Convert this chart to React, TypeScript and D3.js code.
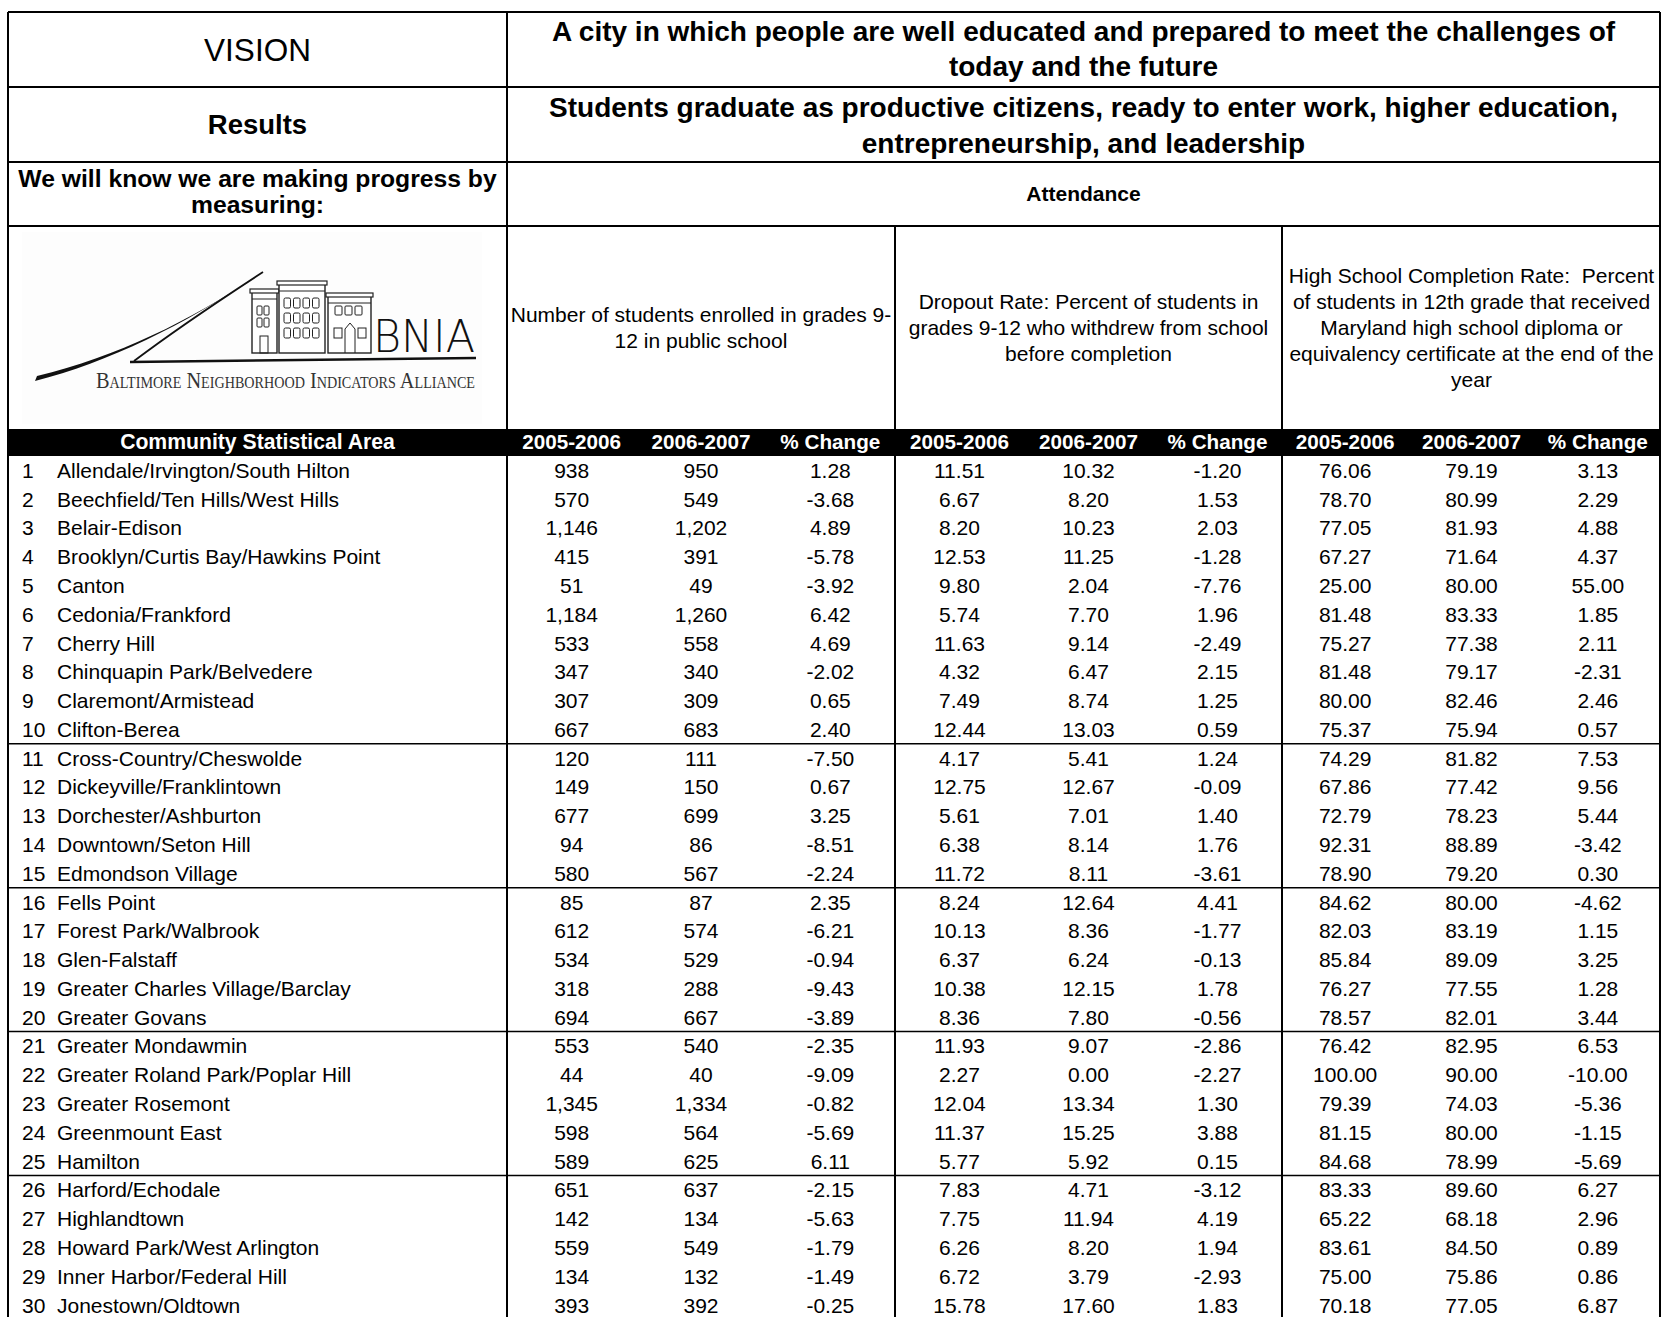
import React from "react";
import * as d3 from "d3";

// ---------- DATA ----------
const csaNames = [
  "Allendale/Irvington/South Hilton",
  "Beechfield/Ten Hills/West Hills",
  "Belair-Edison",
  "Brooklyn/Curtis Bay/Hawkins Point",
  "Canton",
  "Cedonia/Frankford",
  "Cherry Hill",
  "Chinquapin Park/Belvedere",
  "Claremont/Armistead",
  "Clifton-Berea",
  "Cross-Country/Cheswolde",
  "Dickeyville/Franklintown",
  "Dorchester/Ashburton",
  "Downtown/Seton Hill",
  "Edmondson Village",
  "Fells Point",
  "Forest Park/Walbrook",
  "Glen-Falstaff",
  "Greater Charles Village/Barclay",
  "Greater Govans",
  "Greater Mondawmin",
  "Greater Roland Park/Poplar Hill",
  "Greater Rosemont",
  "Greenmount East",
  "Hamilton",
  "Harford/Echodale",
  "Highlandtown",
  "Howard Park/West Arlington",
  "Inner Harbor/Federal Hill",
  "Jonestown/Oldtown",
];

const enroll0506 = [938, 570, 1146, 415, 51, 1184, 533, 347, 307, 667, 120, 149, 677, 94, 580, 85, 612, 534, 318, 694, 553, 44, 1345, 598, 589, 651, 142, 559, 134, 393];
const enroll0607 = [950, 549, 1202, 391, 49, 1260, 558, 340, 309, 683, 111, 150, 699, 86, 567, 87, 574, 529, 288, 667, 540, 40, 1334, 564, 625, 637, 134, 549, 132, 392];
const enrollChange = [1.28, -3.68, 4.89, -5.78, -3.92, 6.42, 4.69, -2.02, 0.65, 2.4, -7.5, 0.67, 3.25, -8.51, -2.24, 2.35, -6.21, -0.94, -9.43, -3.89, -2.35, -9.09, -0.82, -5.69, 6.11, -2.15, -5.63, -1.79, -1.49, -0.25];

const dropout0506 = [11.51, 6.67, 8.2, 12.53, 9.8, 5.74, 11.63, 4.32, 7.49, 12.44, 4.17, 12.75, 5.61, 6.38, 11.72, 8.24, 10.13, 6.37, 10.38, 8.36, 11.93, 2.27, 12.04, 11.37, 5.77, 7.83, 7.75, 6.26, 6.72, 15.78];
const dropout0607 = [10.32, 8.2, 10.23, 11.25, 2.04, 7.7, 9.14, 6.47, 8.74, 13.03, 5.41, 12.67, 7.01, 8.14, 8.11, 12.64, 8.36, 6.24, 12.15, 7.8, 9.07, 0.0, 13.34, 15.25, 5.92, 4.71, 11.94, 8.2, 3.79, 17.6];
const dropoutChange = [-1.2, 1.53, 2.03, -1.28, -7.76, 1.96, -2.49, 2.15, 1.25, 0.59, 1.24, -0.09, 1.4, 1.76, -3.61, 4.41, -1.77, -0.13, 1.78, -0.56, -2.86, -2.27, 1.3, 3.88, 0.15, -3.12, 4.19, 1.94, -2.93, 1.83];

const completion0506 = [76.06, 78.7, 77.05, 67.27, 25.0, 81.48, 75.27, 81.48, 80.0, 75.37, 74.29, 67.86, 72.79, 92.31, 78.9, 84.62, 82.03, 85.84, 76.27, 78.57, 76.42, 100.0, 79.39, 81.15, 84.68, 83.33, 65.22, 83.61, 75.0, 70.18];
const completion0607 = [79.19, 80.99, 81.93, 71.64, 80.0, 83.33, 77.38, 79.17, 82.46, 75.94, 81.82, 77.42, 78.23, 88.89, 79.2, 80.0, 83.19, 89.09, 77.55, 82.01, 82.95, 90.0, 74.03, 80.0, 78.99, 89.6, 68.18, 84.5, 75.86, 77.05];
const completionChange = [3.13, 2.29, 4.88, 4.37, 55.0, 1.85, 2.11, -2.31, 2.46, 0.57, 7.53, 9.56, 5.44, -3.42, 0.3, -4.62, 1.15, 3.25, 1.28, 3.44, 6.53, -10.0, -5.36, -1.15, -5.69, 6.27, 2.96, 0.89, 0.86, 6.87];

const periodLabels = ["2005-2006", "2006-2007", "% Change"];
const visionText = ["A city in which people are well educated and prepared to meet the challenges of", "today and the future"];
const resultsText = ["Students graduate as productive citizens, ready to enter work, higher education,", "entrepreneurship, and leadership"];
const measureText = ["We will know we are making progress by", "measuring:"];
const indicatorDescs = [
  ["Number of students enrolled in grades 9-", "12 in public school"],
  ["Dropout Rate: Percent of students in", "grades 9-12 who withdrew from school", "before completion"],
  ["High School Completion Rate:  Percent", "of students in 12th grade that received", "Maryland high school diploma or", "equivalency certificate at the end of the", "year"],
];
const groupBoundaryRows = [10, 15, 20, 25];

// ---------- LAYOUT ----------
const W = 1661;
const H = 1317;
const FONT = "'Liberation Sans', Arial, Helvetica, sans-serif";
const L = 8;
const R = 1660;
const T = 12;
const DIV = 507;
const rowLines = [12, 87, 162, 226, 430];
const HEAD_TOP = 430;
const HEAD_BOT = 456;
const ROW_H = 28.78;
const groupEdges = [507, 895, 1282, 1661];
const DATA_FS = 21;

const locale = d3.formatLocale({ decimal: ".", thousands: ",", grouping: [3], currency: ["$", ""], minus: "-" });
const fmtInt = locale.format(",");
const fmt2 = locale.format(".2f");

const series = [
  { values: enroll0506, fmt: fmtInt },
  { values: enroll0607, fmt: fmtInt },
  { values: enrollChange, fmt: fmt2 },
  { values: dropout0506, fmt: fmt2 },
  { values: dropout0607, fmt: fmt2 },
  { values: dropoutChange, fmt: fmt2 },
  { values: completion0506, fmt: fmt2 },
  { values: completion0607, fmt: fmt2 },
  { values: completionChange, fmt: fmt2 },
];

function Logo() {
  const b1 = { x: 252, y: 292, w: 25, h: 61 };
  const b2 = { x: 279, y: 284, w: 46, h: 69 };
  const b3 = { x: 328, y: 296, w: 43, h: 57 };
  const win: JSX.Element[] = [];
  for (let r = 0; r < 2; r++)
    for (let c = 0; c < 2; c++)
      win.push(<rect key={`a${r}${c}`} x={b1.x + 5 + c * 7} y={b1.y + 14 + r * 12} width={5} height={9} rx={1} fill="none" stroke="#222" strokeWidth={1} />);
  win.push(<rect key="a-door" x={b1.x + 8} y={b1.y + 44} width={8} height={17} fill="none" stroke="#222" strokeWidth={1} />);
  for (let r = 0; r < 3; r++)
    for (let c = 0; c < 4; c++)
      win.push(<rect key={`b${r}${c}`} x={b2.x + 5 + c * 9.5} y={b2.y + 14 + r * 15} width={6.5} height={10} rx={1.5} fill="none" stroke="#222" strokeWidth={1} />);
  for (let c = 0; c < 3; c++)
    win.push(<rect key={`c${c}`} x={b3.x + 7 + c * 10} y={b3.y + 10} width={7} height={9} rx={1} fill="none" stroke="#222" strokeWidth={1} />);
  win.push(<rect key="c-w1" x={b3.x + 6} y={b3.y + 32} width={8} height={10} fill="none" stroke="#222" strokeWidth={1} />);
  win.push(<path key="c-door" d={`M${b3.x + 17},${b3.y + 57} V${b3.y + 33} L${b3.x + 22},${b3.y + 27} L${b3.x + 27},${b3.y + 33} V${b3.y + 57}`} fill="none" stroke="#222" strokeWidth={1} />);
  win.push(<rect key="c-w2" x={b3.x + 30} y={b3.y + 32} width={8} height={10} fill="none" stroke="#222" strokeWidth={1} />);
  return (
    <g>
      <rect x={22} y={232} width={460} height={192} fill="#fdfdfd" />
      <path d="M35,381 C110,362 190,322 263,272 C195,318 120,356 37,376 Z" fill="#111" />
      <path d="M263,272 C220,300 175,330 134,361" fill="none" stroke="#111" strokeWidth={1.8} />
      <path d="M130,362 L476,358" fill="none" stroke="#111" strokeWidth={2.4} />
      {[b1, b2, b3].map((b, i) => (
        <g key={i}>
          <rect x={b.x} y={b.y} width={b.w} height={b.h} fill="#fff" stroke="#222" strokeWidth={1.4} />
          <rect x={b.x - 2} y={b.y - 3} width={b.w + 4} height={4} fill="#fff" stroke="#222" strokeWidth={1.2} />
          <line x1={b.x} x2={b.x + b.w} y1={b.y + 7} y2={b.y + 7} stroke="#222" strokeWidth={1} />
        </g>
      ))}
      {win}
      <text x={373} y={352} fontFamily="'DejaVu Sans ExtraLight', 'DejaVu Sans', sans-serif" fontSize={44} textLength={102} lengthAdjust="spacingAndGlyphs" fill="#111" fontWeight={200}>BNIA</text>
      <text x={96} y={388} fontFamily="'Liberation Serif', 'DejaVu Serif', serif" fontSize={23} style={{ fontVariant: "small-caps" }} textLength={379} lengthAdjust="spacingAndGlyphs" fill="#333">Baltimore Neighborhood Indicators Alliance</text>
    </g>
  );
}

export default function App() {
  const rowIdx = d3.range(csaNames.length);
  const y = d3.scaleBand<number>().domain(rowIdx).range([HEAD_BOT, HEAD_BOT + ROW_H * csaNames.length]);
  const colScales = groupEdges.slice(0, 3).map((x0, i) =>
    d3.scaleBand<number>().domain([0, 1, 2]).range([x0, groupEdges[i + 1]])
  );
  const colCenter = (k: number) => {
    const s = colScales[Math.floor(k / 3)];
    return (s(k % 3) as number) + s.bandwidth() / 2;
  };
  const dataBottom = HEAD_BOT + ROW_H * csaNames.length;
  const leftCenter = (L + DIV) / 2;
  const rightCenter = (DIV + R) / 2;
  const sw = 2;
  const headY = (HEAD_TOP + HEAD_BOT) / 2 - 1.5;

  return (
    <svg width={W} height={H} style={{ position: "absolute", left: 0, top: 0, background: "#fff" }} fontFamily={FONT}>
      <rect x={0} y={0} width={W} height={H} fill="#fff" />
      <Logo />

      <text x={leftCenter} y={49.5} textAnchor="middle" dominantBaseline="central" fontSize={31.5}>VISION</text>
      {visionText.map((t, i) => (
        <text key={i} x={rightCenter} y={31 + i * 35} textAnchor="middle" dominantBaseline="central" fontSize={28} fontWeight="bold">{t}</text>
      ))}
      <text x={leftCenter} y={124} textAnchor="middle" dominantBaseline="central" fontSize={27.5} fontWeight="bold">Results</text>
      {resultsText.map((t, i) => (
        <text key={i} x={rightCenter} y={107 + i * 36} textAnchor="middle" dominantBaseline="central" fontSize={28} fontWeight="bold">{t}</text>
      ))}
      {measureText.map((t, i) => (
        <text key={i} x={leftCenter} y={178 + i * 26.5} textAnchor="middle" dominantBaseline="central" fontSize={24.7} fontWeight="bold">{t}</text>
      ))}
      <text x={rightCenter} y={193} textAnchor="middle" dominantBaseline="central" fontSize={21} fontWeight="bold">Attendance</text>

      {indicatorDescs.map((lines, g) => {
        const cx = (groupEdges[g] + groupEdges[g + 1]) / 2;
        const mid = 327;
        const lh = 26;
        return lines.map((t, i) => (
          <text key={`${g}-${i}`} x={cx} y={mid + (i - (lines.length - 1) / 2) * lh} textAnchor="middle" dominantBaseline="central" fontSize={21} style={{ whiteSpace: "pre" }}>{t}</text>
        ));
      })}

      <rect x={L - 1} y={HEAD_TOP} width={W - L + 1} height={HEAD_BOT - HEAD_TOP} fill="#000" />
      <text x={leftCenter} y={headY} textAnchor="middle" dominantBaseline="central" fontSize={21.2} fontWeight="bold" fill="#fff">Community Statistical Area</text>
      {d3.range(9).map((k) => (
        <text key={k} x={colCenter(k)} y={headY} textAnchor="middle" dominantBaseline="central" fontSize={20.7} fontWeight="bold" fill="#fff">{periodLabels[k % 3]}</text>
      ))}

      {rowIdx.map((i) => {
        const cy = (y(i) as number) + y.bandwidth() / 2;
        return (
          <g key={i}>
            <text x={22} y={cy} dominantBaseline="central" fontSize={DATA_FS}>{i + 1}</text>
            <text x={57} y={cy} dominantBaseline="central" fontSize={DATA_FS}>{csaNames[i]}</text>
            {series.map((s, k) => (
              <text key={k} x={colCenter(k)} y={cy} textAnchor="middle" dominantBaseline="central" fontSize={DATA_FS}>{s.fmt(s.values[i])}</text>
            ))}
          </g>
        );
      })}

      <g stroke="#000" strokeWidth={sw} fill="none">
        {rowLines.map((yy, i) => (
          <line key={i} x1={L} x2={R} y1={yy} y2={yy} />
        ))}
        <line x1={L} x2={L} y1={T} y2={dataBottom} />
        <line x1={R} x2={R} y1={T} y2={dataBottom} />
        <line x1={DIV} x2={DIV} y1={T} y2={HEAD_TOP} />
        {groupEdges.slice(1, 3).map((x, i) => (
          <line key={i} x1={x} x2={x} y1={226} y2={HEAD_TOP} />
        ))}
        {groupEdges.slice(0, 3).map((x, i) => (
          <line key={`d${i}`} x1={x} x2={x} y1={HEAD_BOT} y2={dataBottom} />
        ))}
        {groupBoundaryRows.map((r) => (
          <line key={`r${r}`} x1={L} x2={R} y1={y(r) as number} y2={y(r) as number} strokeWidth={1.5} />
        ))}
      </g>
    </svg>
  );
}
